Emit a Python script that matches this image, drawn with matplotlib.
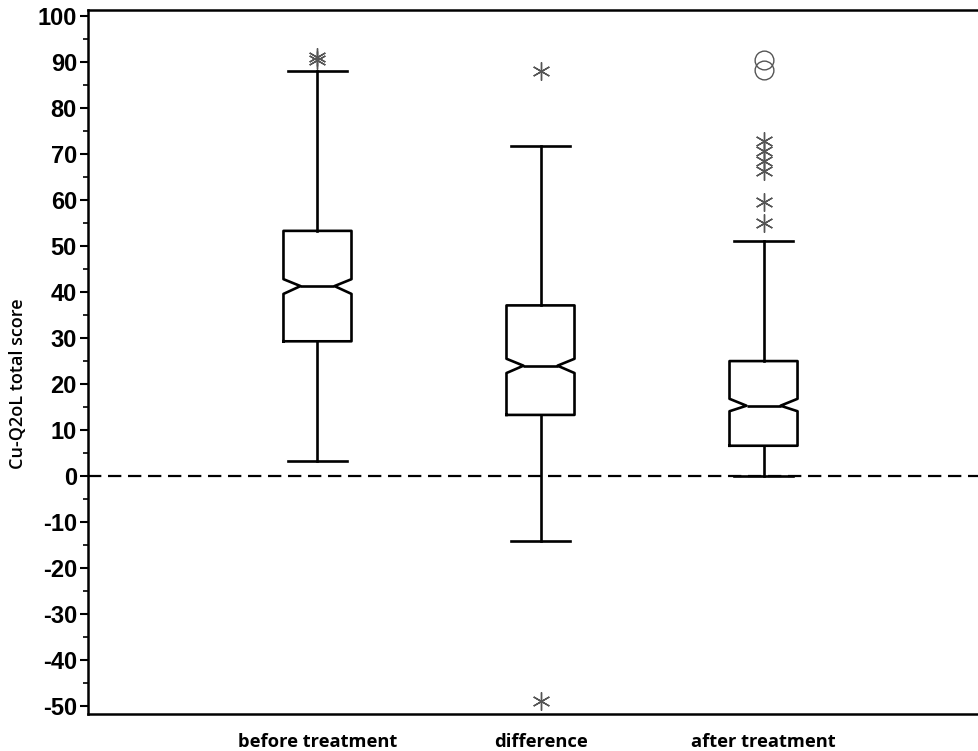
import matplotlib
matplotlib.use("Agg")
import matplotlib.pyplot as plt
from matplotlib.ticker import MultipleLocator

# ---- data ----
categories = ["before treatment", "difference", "after treatment"]
medians = [41.3, 24.0, 15.3]
q1 = [29.3, 13.3, 6.6]
q3 = [53.3, 37.1, 25.0]
whisker_low = [3.3, -14.1, 0.0]
whisker_high = [88.0, 71.7, 51.0]
notch_low = [39.6, 22.4, 14.1]
notch_high = [42.8, 25.5, 16.8]
asterisk_outliers = [
    [90.4, 91.0],
    [88.0, -48.8],
    [72.8, 70.6, 68.4, 66.4, 59.5, 55.0],
]
circle_outliers = [
    [],
    [],
    [90.4, 88.2],
]
yticks = list(range(-50, 101, 10))
ylabel = "Cu-Q2oL total score"

# ---- figure ----
fig = plt.figure(figsize=(9.79, 7.51), dpi=100)
ax = fig.add_axes([88 / 979, 1 - 714 / 751, 1 - 88 / 979 + 0.002, (714 - 10) / 751])

positions = list(range(1, len(categories) + 1))
stats = []
for i in range(len(categories)):
    stats.append(dict(med=medians[i], q1=q1[i], q3=q3[i],
                      whislo=whisker_low[i], whishi=whisker_high[i],
                      cilo=notch_low[i], cihi=notch_high[i], fliers=[]))

ax.axhline(0, color="black", lw=1.6, dashes=(6, 3), zorder=1)

lp = dict(color="black", linewidth=1.9)
ax.bxp(stats, positions=positions, widths=0.305, capwidths=0.265,
       shownotches=True, showfliers=False,
       boxprops=lp, whiskerprops=lp, capprops=lp,
       medianprops=lp, manage_ticks=False, zorder=2)

for p, vals in zip(positions, asterisk_outliers):
    if vals:
        ax.plot([p] * len(vals), vals, linestyle="none", marker=(6, 2, 0),
                markersize=13, markeredgecolor="#555555", markeredgewidth=1.0,
                zorder=3)
for p, vals in zip(positions, circle_outliers):
    if vals:
        ax.plot([p] * len(vals), vals, linestyle="none", marker="o",
                markersize=13.5, markerfacecolor="none",
                markeredgecolor="#555555", markeredgewidth=1.0, zorder=3)

ax.set_xlim(-0.029, 3.975)
ax.set_ylim(-51.7, 101.3)
ax.set_yticks(yticks)
ax.yaxis.set_minor_locator(MultipleLocator(5))
ax.set_yticklabels([str(t) for t in yticks],
                   fontdict=dict(family="Liberation Sans", weight="bold", size=17))
ax.tick_params(axis="y", which="major", direction="out", length=6, width=1.5, pad=2)
ax.tick_params(axis="y", which="minor", direction="out", length=3.5, width=1.2)
ax.set_xticks(positions)
ax.set_xticklabels(categories, fontdict=dict(family="Open Sans", weight="bold", size=13.2))
ax.tick_params(axis="x", length=0, pad=14)

for s in ["left", "top", "bottom"]:
    ax.spines[s].set_linewidth(1.8)
ax.spines["right"].set_visible(False)

fig.text(18 / 979, 1 - 384 / 751, ylabel, rotation=90, ha="center", va="center",
         family="Open Sans", weight="semibold", size=13)

fig.savefig("out.png", dpi=100)
